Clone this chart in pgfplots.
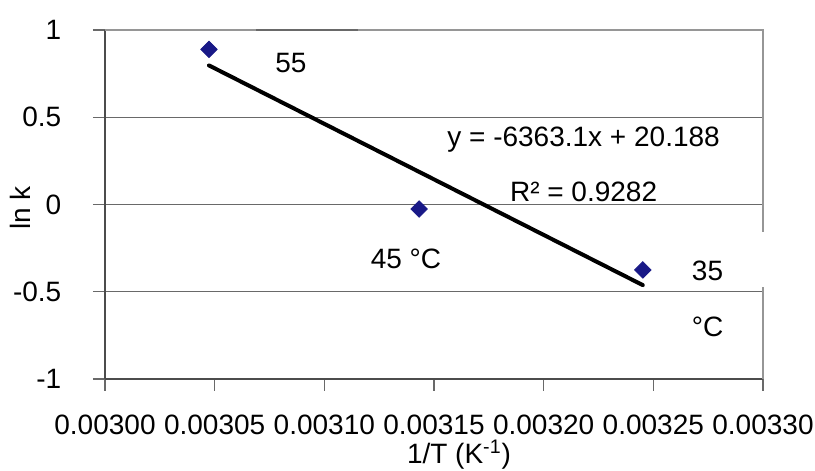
\documentclass[border=0pt]{standalone}
\usepackage{pgfplots}
\pgfplotsset{compat=1.18}
\usepackage{fontspec}
\setmainfont{Liberation Sans}
\definecolor{navy}{RGB}{25,25,135}
\definecolor{gridc}{RGB}{105,105,105}
\definecolor{framec}{RGB}{150,150,150}
\begin{document}
\fontsize{14pt}{16pt}\selectfont
\begin{tikzpicture}
\begin{axis}[
  scale only axis, width=329pt, height=174.5pt,
  xmin=0.003, xmax=0.0033, ymin=-1, ymax=1,
  xtick={0.00300,0.00305,0.00310,0.00315,0.00320,0.00325,0.00330},
  ytick={-1,-0.5,0,0.5,1},
  scaled x ticks=false,
  /pgf/number format/assume math mode=true,
  x tick label style={/pgf/number format/.cd,fixed,fixed zerofill,precision=5,/tikz/.cd, inner sep=1pt, yshift=-10.7pt},
  y tick label style={xshift=-11pt},
  tick align=outside, major tick length=6pt,
  xtick pos=lower, ytick pos=left,
  ymajorgrids, grid style={color=gridc, line width=0.6pt},
  axis line style={draw=none},
  tick style={color=gridc, line width=0.6pt},
  clip=false,
  xlabel={1/T (K\textsuperscript{-1})},
  ylabel={ln k},
  xlabel style={at={(axis description cs:0.538,0)}, anchor=north, inner sep=0pt, yshift=-30.2pt},
  ylabel style={at={(axis description cs:-0.1292,0.49)}, anchor=center},
]
% frame
\draw[color=black!70, line width=1pt] (rel axis cs:0,0) -- (rel axis cs:0,1);
\draw[color=black!70, line width=1pt] (rel axis cs:0,0) -- (rel axis cs:1,0);
\draw[color=framec, line width=1pt] (rel axis cs:0,1) -- (rel axis cs:0.2295,1);
\draw[color=framec, line width=1pt] (rel axis cs:0.3845,1) -- (rel axis cs:1,1) -- (rel axis cs:1,0.421);
\draw[color=framec, line width=1pt] (rel axis cs:1,0.2636) -- (rel axis cs:1,0);
% trendline
\addplot[black, line width=2pt, line cap=round] coordinates {(0.0030474,0.797) (0.0032452,-0.462)};
% data
\addplot[only marks, mark=square*, mark size=2.9pt, mark options={rotate=45, fill=navy, draw=navy}] coordinates {
(0.0030474,0.889) (0.0031432,-0.026) (0.0032452,-0.375)};
\node[anchor=base] at (axis cs:0.0030848,0.759) {55};
\node[anchor=base] at (axis cs:0.0031372,-0.364) {45 °C};
\node[anchor=base] at (axis cs:0.0032747,-0.433) {35};
\node[anchor=base] at (axis cs:0.0032747,-0.757) {°C};
\node[anchor=base] at (axis cs:0.0032182,0.335) {y = -6363.1x + 20.188};
\node[anchor=base] at (axis cs:0.0032182,0.016) {R² = 0.9282};
\end{axis}
\pgfresetboundingbox
\path[use as bounding box] ([shift={(-52.5pt,-46pt)}]current axis.south west) rectangle ([shift={(26pt,15pt)}]current axis.north east);
\end{tikzpicture}
\end{document}
